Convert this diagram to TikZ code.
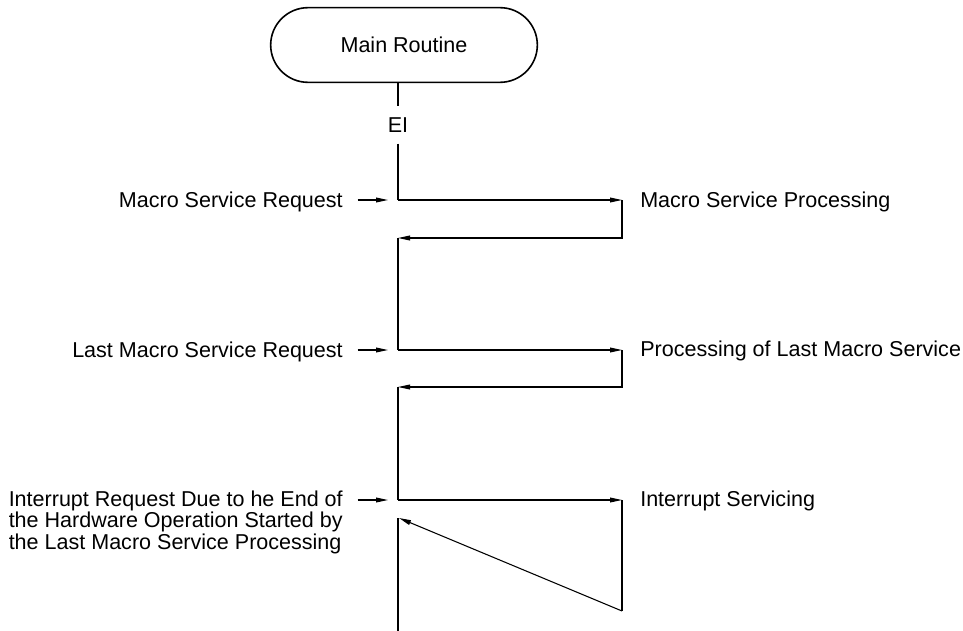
\documentclass[tikz,border=0pt]{standalone}
\usepackage{fontspec}
\setmainfont{Liberation Sans}
\usetikzlibrary{arrows.meta,positioning}

\begin{document}
\begin{tikzpicture}[
    x=0.75pt,y=-0.75pt,
    font=\fontsize{16.15pt}{16.1pt}\selectfont,
    term/.style={rectangle,draw,line width=1.2pt,rounded corners=28pt,
      minimum width=200pt,minimum height=56pt},
    lbl/.style={inner sep=0pt,text height=11.6pt,text depth=0pt},
    flow/.style={line width=0.8pt},
    arrow/.style={flow,-{Triangle[length=9pt,width=3.6pt]}},
    feed/.style={arrow,shorten <=11pt,shorten >=7.5pt}
  ]
  \useasboundingbox (0,0) rectangle (963,631);

  \node[term] (main) at (404,45) {Main Routine};
  \node[lbl,inner ysep=8pt] (ei) at (398,125) {EI};

  % requests on the left
  \node[lbl,anchor=east] (req1) at (343,200) {Macro Service Request};
  \node[lbl,anchor=east] (req2) at (343,350) {Last Macro Service Request};
  \node[inner sep=0pt,align=left,anchor=east] (req3) at (343,522)
    {Interrupt Request Due to he End of\\the Hardware Operation Started by\\the Last Macro Service Processing};

  % processing on the right
  \node[lbl,anchor=west] (proc1) at (640,200) {Macro Service Processing};
  \node[lbl,anchor=west] (proc2) at (640,349) {Processing of Last Macro Service};
  \node[lbl,anchor=west] (proc3) at (640,499) {Interrupt Servicing};

  \coordinate (in1) at (398,200);
  \coordinate (out1) at (622,200);
  \coordinate (ret1) at (398,238);
  \coordinate (in2) at (398,350);
  \coordinate (out2) at (622,350);
  \coordinate (ret2) at (398,387);
  \coordinate (in3) at (398,500);
  \coordinate (out3) at (622,500);
  \coordinate (low3) at (622,611);
  \coordinate (ret3) at (399,518);
  \coordinate (end) at (398,631);

  \draw[flow] (main.south -| ei) -- (ei.north);
  \draw[flow] (ei.south) -- (in1);
  \draw[arrow] (in1) -- (out1);
  \draw[arrow] (out1) |- (ret1);
  \draw[flow] (ret1) -- (in2);
  \draw[arrow] (in2) -- (out2);
  \draw[arrow] (out2) |- (ret2);
  \draw[flow] (ret2) -- (in3);
  \draw[arrow] (in3) -- (out3);
  \draw[flow] (out3) -- (low3);
  \draw[arrow] (low3) -- (ret3);
  \draw[flow] (ret3 -| end) -- (end);

  \draw[feed] (req1.east) -- (in1);
  \draw[feed] (req2.east) -- (in2);
  \draw[feed] (req3.east |- in3) -- (in3);
\end{tikzpicture}
\end{document}
